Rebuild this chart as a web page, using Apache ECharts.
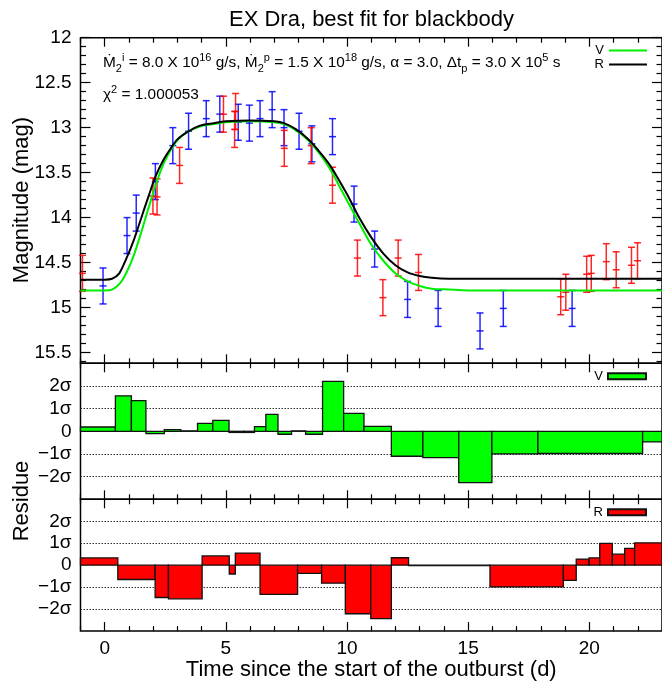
<!DOCTYPE html>
<html><head><meta charset="utf-8">
<script src="https://cdn.jsdelivr.net/npm/echarts@6/dist/echarts.min.js"></script>
<style>html,body{margin:0;padding:0;background:#fff}#c{width:662px;height:682px}</style>
</head><body><div id="c"></div>
<script>
// ---- Observations (V: blue, R: red), time in days, magnitude, 1-sigma error ----
const vTime = [-0.07, 0.92, 1.30, 2.09, 2.81, 3.46, 4.19, 4.75, 5.51, 5.97, 6.41, 6.91, 7.40, 8.02, 8.55, 9.40, 10.29, 11.14, 12.50, 13.76, 15.49, 16.45, 19.29];
const vMag  = [14.76, 14.20, 13.95, 13.60, 13.20, 13.04, 12.90, 12.85, 12.94, 12.95, 12.90, 12.80, 13.00, 13.04, 13.18, 13.10, 13.85, 14.35, 14.91, 15.01, 15.26, 15.01, 15.01];
const vErr  = [0.2, 0.2, 0.2, 0.2, 0.2, 0.2, 0.2, 0.2, 0.2, 0.2, 0.2, 0.2, 0.2, 0.2, 0.2, 0.2, 0.2, 0.2, 0.2, 0.2, 0.2, 0.2, 0.2];
const rTime = [-0.92, 1.99, 2.16, 3.09, 4.90, 5.36, 5.40, 7.41, 8.52, 9.40, 10.43, 11.48, 12.11, 12.95, 18.82, 19.03, 19.89, 20.08, 20.70, 21.11, 21.74, 21.99];
const rMag  = [14.62, 13.76, 13.77, 13.42, 12.85, 13.02, 12.82, 13.23, 13.20, 13.64, 14.45, 14.89, 14.45, 14.61, 14.88, 14.83, 14.63, 14.62, 14.49, 14.58, 14.53, 14.48];
const rErr  = [0.2, 0.2, 0.2, 0.2, 0.2, 0.2, 0.2, 0.2, 0.2, 0.2, 0.2, 0.2, 0.2, 0.2, 0.2, 0.2, 0.2, 0.2, 0.2, 0.2, 0.2, 0.2];

// ---- Model light curves ----
const modelTime = [-1, 0, 0.3, 0.6, 0.9, 1.2, 1.5, 1.8, 2.1, 2.4, 2.7, 3.0, 3.4, 3.9, 4.5, 5.0, 6.0, 7.0, 7.4, 7.9, 8.4, 8.9, 9.3, 9.7, 10.1, 10.5, 11.0, 11.5, 12.0, 12.5, 13.0, 13.5, 14.2, 15, 23];
const modelV = [14.81, 14.81, 14.80, 14.74, 14.61, 14.42, 14.17, 13.90, 13.64, 13.42, 13.26, 13.14, 13.05, 12.99, 12.96, 12.94, 12.93, 12.94, 12.96, 13.03, 13.14, 13.30, 13.46, 13.66, 13.86, 14.06, 14.30, 14.48, 14.62, 14.71, 14.76, 14.79, 14.80, 14.81, 14.81];
const modelR = [14.69, 14.69, 14.68, 14.62, 14.45, 14.25, 14.01, 13.77, 13.54, 13.37, 13.24, 13.13, 13.05, 12.98, 12.95, 12.93, 12.92, 12.93, 12.95, 13.02, 13.13, 13.28, 13.42, 13.60, 13.79, 14.00, 14.22, 14.40, 14.53, 14.61, 14.65, 14.67, 14.68, 14.68, 14.68];

// ---- Residuals (in sigma), boxes between edges ----
const vResEdges = [-1, 0.44, 1.10, 1.70, 2.46, 3.14, 3.83, 4.46, 5.13, 5.76, 6.18, 6.65, 7.15, 7.71, 8.29, 8.99, 9.86, 10.70, 11.83, 13.13, 14.61, 15.98, 17.88, 22.2, 23];
const vResVal   = [0.19, 1.56, 1.35, -0.10, 0.07, 0.02, 0.35, 0.48, -0.05, -0.05, 0.21, 0.75, -0.13, 0.02, -0.13, 2.20, 0.79, 0.22, -1.10, -1.16, -2.26, -1.00, -0.98, -0.47];
const rResEdges = [-1, 0.54, 2.08, 2.63, 4.02, 5.14, 5.39, 6.41, 7.96, 8.95, 9.93, 10.98, 11.83, 12.54, 15.90, 18.93, 19.46, 19.99, 20.43, 20.95, 21.46, 21.87, 23];
const rResVal   = [0.33, -0.65, -1.47, -1.53, 0.42, -0.40, 0.55, -1.33, -0.37, -0.82, -2.21, -2.43, 0.34, -0.02, -0.99, -0.69, 0.28, 0.33, 0.99, 0.50, 0.77, 1.02];

// ---- Ticks ----
const xMajorTicks = [0, 5, 10, 15, 20];
const xMinorTicks = [-1, 1, 2, 3, 4, 6, 7, 8, 9, 11, 12, 13, 14, 16, 17, 18, 19, 21, 22, 23];
const yMagMajor = [12, 12.5, 13, 13.5, 14, 14.5, 15, 15.5];
const yMagMinor = [12.1, 12.2, 12.3, 12.4, 12.6, 12.7, 12.8, 12.9, 13.1, 13.2, 13.3, 13.4, 13.6, 13.7, 13.8, 13.9, 14.1, 14.2, 14.3, 14.4, 14.6, 14.7, 14.8, 14.9, 15.1, 15.2, 15.3, 15.4, 15.6];
const resLabelTicks = [-2, -1, 0, 1, 2];
const resGridTicks = [-2, -1, 1, 2];

const FONT = 'Liberation Sans, Arial, Helvetica, sans-serif';
const X_MIN = -1, X_MAX = 23;

const grids = [
  {left: 80.5, width: 582, top: 37.7, height: 325.6},
  {left: 80.5, width: 582, top: 363.3, height: 136},
  {left: 80.5, width: 582, top: 499.3, height: 135.5}
].map(g => Object.assign({show: true, borderColor: '#000', borderWidth: 1.5, backgroundColor: 'transparent', containLabel: false}, g));

function xAx(gi, pos, ticks, len, labels) {
  return {
    type: 'value', gridIndex: gi, position: pos, min: X_MIN, max: X_MAX,
    axisLine: {show: false, onZero: false},
    axisTick: {show: true, inside: true, length: len, customValues: ticks, lineStyle: {color: '#000', width: 1.2}},
    axisLabel: labels ? {show: true, customValues: ticks, color: '#000', fontSize: 19, fontFamily: FONT, margin: 8} : {show: false, customValues: ticks},
    splitLine: {show: false}
  };
}
const xAxes = [];
for (let g = 0; g < 3; g++) {
  xAxes.push(xAx(g, 'bottom', xMajorTicks, 9, g === 2));
  xAxes.push(xAx(g, 'top', xMajorTicks, 9, false));
  xAxes.push(xAx(g, 'bottom', xMinorTicks, 5, false));
  xAxes.push(xAx(g, 'top', xMinorTicks, 5, false));
}
xAxes[8].name = 'Time since the start of the outburst (d)';
xAxes[8].nameLocation = 'middle';
xAxes[8].nameGap = 21;
xAxes[8].nameTextStyle = {fontSize: 22, fontFamily: FONT, color: '#000', verticalAlign: 'top'};

function yMag(pos, ticks, len, labels) {
  return {
    type: 'value', gridIndex: 0, position: pos, min: 12, max: 15.62, inverse: true,
    axisLine: {show: false, onZero: false},
    axisTick: {show: true, inside: true, length: len, customValues: ticks, lineStyle: {color: '#000', width: 1.2}},
    axisLabel: labels ? {show: true, customValues: ticks, color: '#000', fontSize: 19, fontFamily: FONT, margin: 9} : {show: false, customValues: ticks},
    splitLine: {show: false}
  };
}
function yRes(gi) {
  return {
    type: 'value', gridIndex: gi, position: 'left', min: -3, max: 3,
    axisLine: {show: false, onZero: false},
    axisTick: {show: false, customValues: resGridTicks},
    axisLabel: {show: true, customValues: resLabelTicks, color: '#000', fontSize: 19, fontFamily: FONT, margin: 9,
      formatter: v => v === 0 ? '0' : (v < 0 ? '\u2212' + Math.abs(v) + 'σ' : v + 'σ')},
    splitLine: {show: true, lineStyle: {color: '#333', width: 1, type: [1.5, 1.5]}}
  };
}
const yAxes = [
  yMag('left', yMagMajor, 10, true),
  yMag('left', yMagMinor, 5.5, false),
  yMag('right', yMagMajor, 10, false),
  yMag('right', yMagMinor, 5.5, false),
  yRes(1),
  yRes(2)
];

function errRender(color) {
  return function (params, api) {
    const x = api.value(0), y = api.value(1), e = api.value(2);
    const c = api.coord([x, y]), t = api.coord([x, y - e]), b = api.coord([x, y + e]);
    const cap = 3.5, ct = 3.5;
    const st = () => ({stroke: color, lineWidth: 1.5, opacity: 0.85});
    return {type: 'group', children: [
      {type: 'line', shape: {x1: c[0], y1: t[1], x2: c[0], y2: b[1]}, style: st()},
      {type: 'line', shape: {x1: c[0] - cap, y1: t[1], x2: c[0] + cap, y2: t[1]}, style: st()},
      {type: 'line', shape: {x1: c[0] - cap, y1: b[1], x2: c[0] + cap, y2: b[1]}, style: st()},
      {type: 'line', shape: {x1: c[0] - ct, y1: c[1], x2: c[0] + ct, y2: c[1]}, style: st()}
    ]};
  };
}
function boxRender(params, api) {
  const x0 = api.value(0), x1 = api.value(1), v = api.value(2);
  const p0 = api.coord([x0, 0]), p1 = api.coord([x1, v]);
  return {type: 'rect',
    shape: {x: p0[0], y: Math.min(p0[1], p1[1]), width: p1[0] - p0[0], height: Math.max(Math.abs(p1[1] - p0[1]), 0.01)},
    style: {fill: api.visual('color'), stroke: '#111', lineWidth: 1.3}};
}

const vObs = vTime.map((t, i) => [t, vMag[i], vErr[i]]);
const rObs = rTime.map((t, i) => [t, rMag[i], rErr[i]]);
const vLine = modelTime.map((t, i) => [t, modelV[i]]);
const rLine = modelTime.map((t, i) => [t, modelR[i]]);
const vBoxes = vResVal.map((v, i) => [vResEdges[i], vResEdges[i + 1], v]);
const rBoxes = rResVal.map((v, i) => [rResEdges[i], rResEdges[i + 1], v]);

const legendText = {fontSize: 13, fontFamily: FONT, color: '#000', lineHeight: 12};
const option = {
  animation: false,
  backgroundColor: '#fff',
  title: {text: 'EX Dra, best fit for blackbody', left: 224, top: 4,
    textStyle: {fontSize: 22, fontWeight: 'normal', fontFamily: FONT, color: '#000'}},
  grid: grids,
  xAxis: xAxes,
  yAxis: yAxes,
  legend: [
    {data: ['V', 'R'], orient: 'vertical', right: 15, top: 44, padding: 0, align: 'right', icon: 'rect',
      itemWidth: 38, itemHeight: 2, itemGap: 1, textStyle: legendText, selectedMode: false},
    {data: ['V '], orient: 'vertical', right: 15, top: 369.7, padding: 0, align: 'right', icon: 'rect',
      itemWidth: 38, itemHeight: 6, textStyle: legendText, selectedMode: false, formatter: n => n.trim()},
    {data: ['R '], orient: 'vertical', right: 15, top: 505.7, padding: 0, align: 'right', icon: 'rect',
      itemWidth: 38, itemHeight: 6, textStyle: legendText, selectedMode: false, formatter: n => n.trim()}
  ],
  graphic: [
    {type: 'text', left: 103, top: 52, style: {
      text: '{n|Ṁ}{sub|2}{sup|i}{n| = 8.0 X 10}{sup|16}{n| g/s, Ṁ}{sub|2}{sup|p}{n| = 1.5 X 10}{sup|18}{n| g/s, α = 3.0, Δt}{sub|p}{n| = 3.0 X 10}{sup|5}{n| s}',
      rich: {
        n: {fontSize: 15.4, fontFamily: FONT, fill: '#000', lineHeight: 22, verticalAlign: 'middle'},
        sup: {fontSize: 11, fontFamily: FONT, fill: '#000', lineHeight: 11, verticalAlign: 'top'},
        sub: {fontSize: 11, fontFamily: FONT, fill: '#000', lineHeight: 11, verticalAlign: 'bottom'}
      }}},
    {type: 'text', left: 103, top: 84, style: {
      text: '{n|χ}{sup|2}{n| = 1.000053}',
      rich: {
        n: {fontSize: 15.4, fontFamily: FONT, fill: '#000', lineHeight: 22, verticalAlign: 'middle'},
        sup: {fontSize: 11, fontFamily: FONT, fill: '#000', lineHeight: 11, verticalAlign: 'top'}
      }}},
    {type: 'text', x: 22, y: 200, rotation: Math.PI / 2, style: {
      text: 'Magnitude (mag)', fontSize: 22, fontFamily: FONT, fill: '#000', align: 'center', verticalAlign: 'middle'}},
    {type: 'text', x: 22, y: 501, rotation: Math.PI / 2, style: {
      text: 'Residue', fontSize: 22, fontFamily: FONT, fill: '#000', align: 'center', verticalAlign: 'middle'}}
  ],
  series: [
    {name: 'V obs', type: 'custom', xAxisIndex: 0, yAxisIndex: 0, data: vObs, renderItem: errRender('#0000ff'),
      encode: {x: 0, y: 1}, z: 2},
    {name: 'R obs', type: 'custom', xAxisIndex: 0, yAxisIndex: 0, data: rObs, renderItem: errRender('#ff0000'),
      encode: {x: 0, y: 1}, z: 2},
    {name: 'V', type: 'line', xAxisIndex: 0, yAxisIndex: 0, data: vLine, showSymbol: false, symbol: 'none', smooth: 0.3,
      lineStyle: {color: '#00ee00', width: 2}, itemStyle: {color: '#00ee00'}, z: 3},
    {name: 'R', type: 'line', xAxisIndex: 0, yAxisIndex: 0, data: rLine, showSymbol: false, symbol: 'none', smooth: 0.3,
      lineStyle: {color: '#000', width: 2}, itemStyle: {color: '#000'}, z: 4},
    {name: 'V ', type: 'custom', xAxisIndex: 4, yAxisIndex: 4, data: vBoxes, renderItem: boxRender,
      encode: {x: [0, 1], y: 2}, itemStyle: {color: '#00ff00', borderColor: '#111', borderWidth: 1}, z: 2},
    {name: 'R ', type: 'custom', xAxisIndex: 8, yAxisIndex: 5, data: rBoxes, renderItem: boxRender,
      encode: {x: [0, 1], y: 2}, itemStyle: {color: '#ff0000', borderColor: '#111', borderWidth: 1}, z: 2}
  ]
};
const chart = echarts.init(document.getElementById('c'), null, {renderer: 'canvas'});
chart.setOption(option);
</script></body></html>
